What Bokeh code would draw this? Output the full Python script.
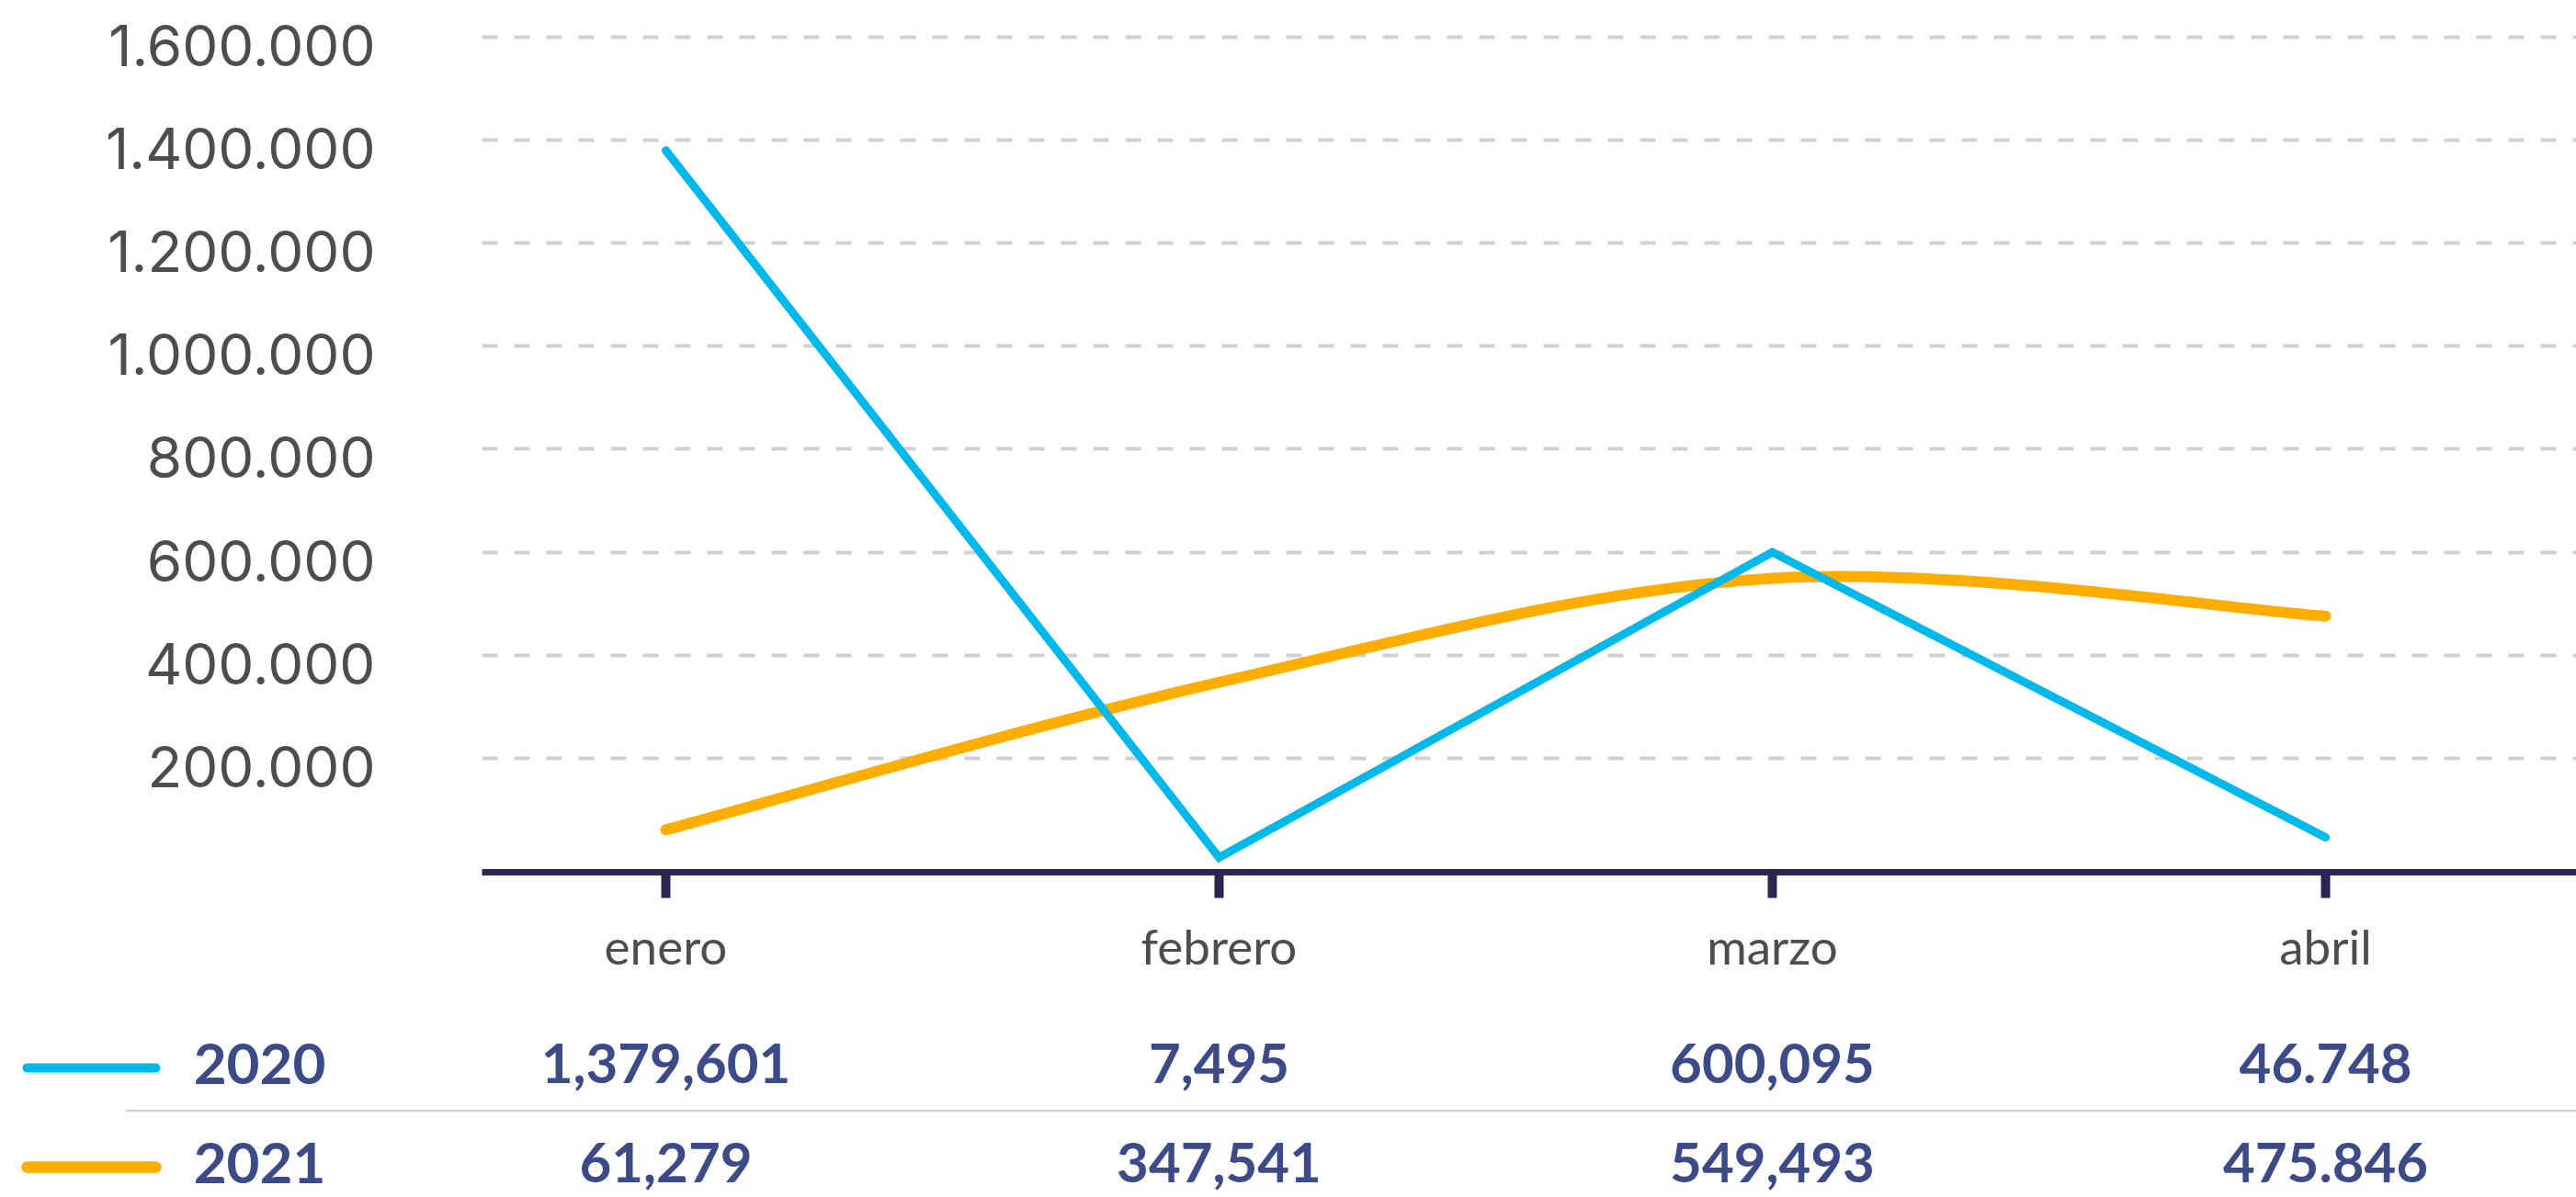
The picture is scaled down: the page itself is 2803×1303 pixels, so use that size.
import numpy as np
from bokeh.plotting import figure
from bokeh.models import Range1d, FixedTicker, LinearAxis, Grid
from bokeh.core.properties import value
from bokeh.embed import file_html
from bokeh.resources import INLINE

# ---------------- data ----------------
months = ["enero", "febrero", "marzo", "abril"]
series_names = ["2020", "2021"]
values_2020 = [1379601, 7495, 600095, 46748]
values_2021 = [61279, 347541, 549493, 475846]
table_2020 = ["1,379,601", "7,495", "600,095", "46.748"]
table_2021 = ["61,279", "347,541", "549,493", "475.846"]
y_ticks = [200000, 400000, 600000, 800000, 1000000, 1200000, 1400000, 1600000]
y_tick_labels = ["200.000", "400.000", "600.000", "800.000", "1.000.000",
                 "1.200.000", "1.400.000", "1.600.000"]

# ---------------- styles / layout ----------------
C2020 = "#00b9ea"
C2021 = "#ffae00"
AXIS_C = "#2d2550"
GRID_C = "#d0d0d6"
LABEL_C = "#4d4d4d"
TABLE_C = "#3c4a87"

W = 2803
H_TOTAL = 1303
X0_PX, UNIT_PX = 724.0, 602.0          # page x of first category and px per category
FRAME_LEFT_PX = 524


def u(px):
    return (px - X0_PX) / UNIT_PX


ZERO_PX = 937.2
PX_PER_VAL = 112.2 / 200000.0
AXIS_PX = 949
H1 = 1075
y_start = (ZERO_PX - AXIS_PX) / PX_PER_VAL
y_end = (ZERO_PX - 0) / PX_PER_VAL
LABEL_SHIFT_PX = 9
shift = LABEL_SHIFT_PX / PX_PER_VAL

# ---------------- main chart ----------------
p = figure(width=W, height=H1, output_backend="svg", toolbar_location=None,
           title=None,
           x_range=Range1d(u(FRAME_LEFT_PX), u(W)),
           y_range=Range1d(y_start, y_end),
           y_axis_location=None,
           min_border_left=FRAME_LEFT_PX, min_border_right=0,
           min_border_top=0, min_border_bottom=H1 - AXIS_PX)
p.outline_line_color = None
p.background_fill_color = "white"
p.border_fill_color = "white"
p.grid.visible = False

p.add_layout(Grid(dimension=1, ticker=FixedTicker(ticks=y_ticks),
                  grid_line_color=GRID_C, grid_line_width=4,
                  grid_line_dash="17 18"), "center")

p.extra_y_ranges = {"lab": Range1d(y_start + shift, y_end + shift)}
yax = LinearAxis(y_range_name="lab", ticker=FixedTicker(ticks=y_ticks),
                 major_label_overrides={t: l for t, l in zip(y_ticks, y_tick_labels)},
                 axis_line_color=None, major_tick_line_color=None,
                 minor_tick_line_color=None, major_tick_in=0, major_tick_out=0,
                 major_label_standoff=116, major_label_text_font="Inter",
                 major_label_text_font_size="62px", major_label_text_color=LABEL_C)
p.add_layout(yax, "left")

xs = list(range(len(months)))
xax = p.xaxis[0]
xax.ticker = FixedTicker(ticks=xs)
xax.major_label_overrides = {i: m for i, m in zip(xs, months)}
xax.axis_line_color = AXIS_C
xax.axis_line_width = 7
xax.major_tick_line_color = AXIS_C
xax.major_tick_line_width = 10
xax.major_tick_in = 0
xax.major_tick_out = 28
xax.minor_tick_line_color = None
xax.major_label_standoff = 20
xax.major_label_text_font = "Lato"
xax.major_label_text_font_size = "53px"
xax.major_label_text_color = LABEL_C

# 2021: smooth curve (Catmull-Rom through the data, drawn as bezier segments)
px = np.array(xs, dtype=float)
py = np.array(values_2021, dtype=float)
PX = np.concatenate([[px[0]], px, [px[-1]]])
PY = np.concatenate([[py[0]], py, [py[-1]]])
n = len(px) - 1
x0 = PX[1:n + 1]; y0 = PY[1:n + 1]
x1 = PX[2:n + 2]; y1 = PY[2:n + 2]
cx0 = x0 + (PX[2:n + 2] - PX[0:n]) / 6.0
cy0 = y0 + (PY[2:n + 2] - PY[0:n]) / 6.0
cx1 = x1 - (PX[3:n + 3] - PX[1:n + 1]) / 6.0
cy1 = y1 - (PY[3:n + 3] - PY[1:n + 1]) / 6.0
p.bezier(x0=x0, y0=y0, x1=x1, y1=y1, cx0=cx0, cy0=cy0, cx1=cx1, cy1=cy1,
         line_color=C2021, line_width=12, line_cap="round")

# 2020: straight line
p.line(xs, values_2020, line_color=C2020, line_width=9,
       line_cap="round", line_join="miter")

# ---------------- table / legend below ----------------
TOP2 = H1
BOT2 = H_TOTAL
t = figure(width=W, height=BOT2 - TOP2, output_backend="svg", toolbar_location=None,
           title=None,
           x_range=Range1d(u(0), u(W)),
           y_range=Range1d(BOT2, TOP2),
           x_axis_location=None, y_axis_location=None, min_border=0)
t.outline_line_color = None
t.grid.visible = False
t.background_fill_color = "white"
t.border_fill_color = "white"

ROW_BASE = [1157, 1265]
SWATCH_Y = [1162, 1270]
SWATCH_W = [10, 12.5]
colors = [C2020, C2021]
tables = [table_2020, table_2021]

t.segment(x0=[u(136)], y0=[1208.5], x1=[u(W + 20)], y1=[1208.5],
          line_color="#cfcfd4", line_width=2.5)

for name, col, tab, yb, ys, sw in zip(series_names, colors, tables, ROW_BASE, SWATCH_Y, SWATCH_W):
    t.segment(x0=[u(29)], y0=[ys], x1=[u(169)], y1=[ys], line_color=col,
              line_width=sw, line_cap="round")
    t.text(x=[u(354)], y=[yb], text=[name], text_align="right",
           text_baseline="alphabetic", text_font=value("Lato"),
           text_font_style="bold", text_font_size=value("62px"), text_color=TABLE_C)
    t.text(x=xs, y=[yb] * len(xs), text=tab, text_align="center",
           text_baseline="alphabetic", text_font=value("Lato"),
           text_font_style="bold", text_font_size=value("60px"), text_color=TABLE_C)

open("out.html", "w").write(file_html([p, t], INLINE))
